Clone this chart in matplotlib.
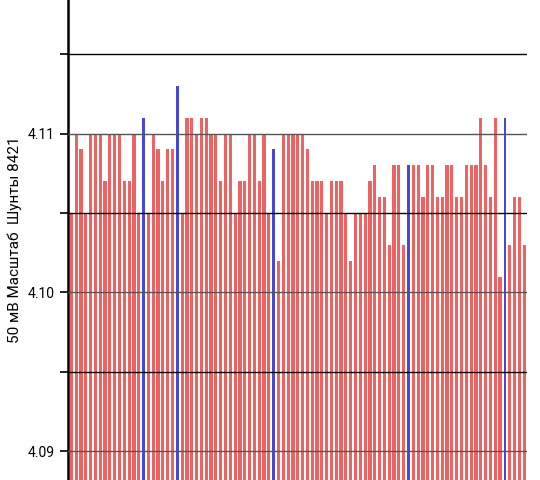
import matplotlib
matplotlib.use("Agg")
import matplotlib.pyplot as plt
import numpy as np

# bar values (V); blue marks flagged samples
values = [4.105, 4.110, 4.109, 4.105, 4.110, 4.110, 4.110, 4.107, 4.110, 4.110,
          4.110, 4.107, 4.107, 4.110, 4.105, 4.111, 4.105, 4.110, 4.109, 4.107,
          4.109, 4.109, 4.113, 4.105, 4.111, 4.111, 4.110, 4.111, 4.111, 4.110,
          4.110, 4.107, 4.110, 4.110, 4.105, 4.107, 4.107, 4.110, 4.110, 4.107,
          4.110, 4.105, 4.109, 4.102, 4.110, 4.110, 4.110,
          4.110, 4.110, 4.109, 4.107, 4.107, 4.107, 4.105, 4.107, 4.107, 4.107,
          4.105, 4.102, 4.105, 4.105, 4.105, 4.107, 4.108, 4.106, 4.106, 4.103,
          4.108, 4.108, 4.103, 4.108, 4.108, 4.108, 4.106, 4.108, 4.108, 4.106,
          4.106, 4.108, 4.108, 4.106, 4.106, 4.108, 4.108, 4.108, 4.111, 4.108,
          4.106, 4.111, 4.101, 4.111, 4.103, 4.106, 4.106, 4.103]
blue_idx = [15, 22, 42, 70, 90]
major_ticks = [4.09, 4.10, 4.11]
minor_ticks = [4.095, 4.105, 4.115]
y_label = "50 мВ Масштаб  Шунты 8421"

plt.rcParams["font.family"] = ["Roboto", "DejaVu Sans"]
fig = plt.figure(figsize=(5.4, 4.8), dpi=100)
ax = fig.add_axes([68 / 540, 0, (527 - 68) / 540, 1])

x = np.arange(len(values))
is_blue = np.isin(x, blue_idx)
vals = np.array(values)
ax.bar(x[~is_blue], vals[~is_blue], width=0.66, color="#ee6262",
       linewidth=0, zorder=2)
ax.bar(x[is_blue], vals[is_blue], width=0.5, color="#4848d8",
       linewidth=0, zorder=2)

ax.set_xlim(-0.7, len(values) - 0.4)
ax.set_ylim(4.0882, 4.1184)
ax.set_yticks(major_ticks)
ax.set_yticks(minor_ticks, minor=True)
ax.set_yticklabels([f"{t:.2f}" for t in major_ticks], fontsize=10)
ax.tick_params(axis="y", which="both", length=6, width=1.2, direction="out")
ax.set_xticks([])
for t in major_ticks:
    ax.axhline(t, color="#555555", linewidth=1.0, zorder=3)
for t in minor_ticks:
    ax.axhline(t, color="black", linewidth=1.0, zorder=3)

for s in ["top", "right", "bottom"]:
    ax.spines[s].set_visible(False)
ax.spines["left"].set_linewidth(1.8)
ax.set_ylabel(y_label, fontsize=11, labelpad=4)

fig.savefig("out.png", dpi=100)
